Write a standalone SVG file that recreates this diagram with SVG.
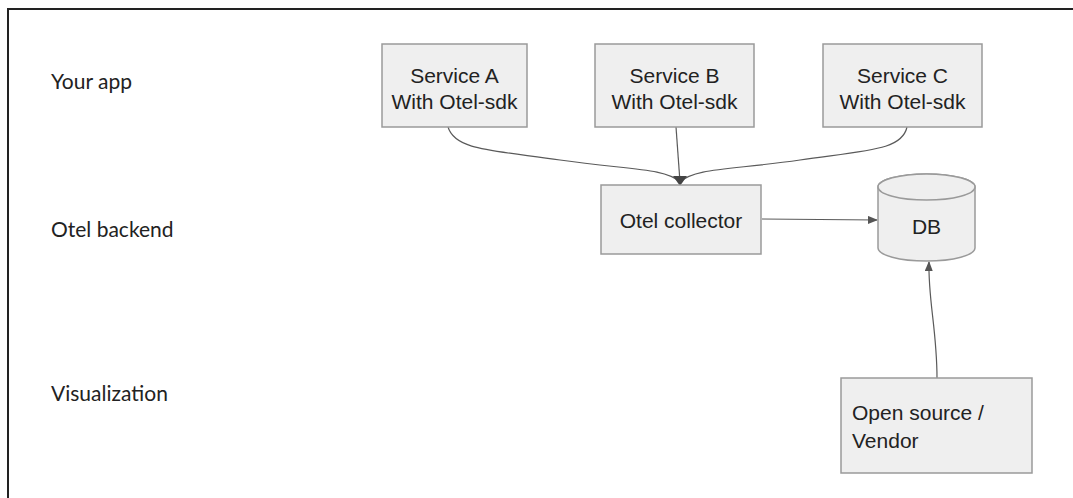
<svg xmlns="http://www.w3.org/2000/svg" width="1073" height="498" viewBox="0 0 1073 498">
<style>
.box{fill:#efefef;stroke:#9a9a9a;stroke-width:1.5}
.t{font-family:"Liberation Sans",Arial,sans-serif;font-size:21px;fill:#222;text-anchor:middle}
.lab{font-family:Lato,"Liberation Sans",sans-serif;font-size:21px;fill:#222}
.c{fill:none;stroke:#5a5a5a;stroke-width:1.2}
</style>
<defs>
<marker id="ah" markerWidth="10" markerHeight="8" refX="9" refY="4" orient="auto" markerUnits="userSpaceOnUse">
<path d="M0,0 L10,4 L0,8 Z" fill="#555"/>
</marker>
</defs>
<rect width="1073" height="498" fill="#fff"/>
<path d="M8,498 L8,9 L1073,9" fill="none" stroke="#222" stroke-width="2"/>
<g id="labels">
<text class="lab" x="51" y="89">Your app</text>
<text class="lab" x="51" y="237">Otel backend</text>
<text class="lab" x="51" y="401">Visualization</text>
</g>
<g id="connectors">
<path class="c" d="M448,127 C455,150 490,150 560,160 C630,170 665,168 680,182"/>
<path class="c" d="M676,127 L680,182"/>
<path class="c" d="M907,127 C902,150 870,150 800,160 C730,170 695,168 680,182"/>
<path d="M673,176 L687,176 L680,186 Z" fill="#444"/>
<path class="c" d="M762,219 L877,220" marker-end="url(#ah)"/>
<path class="c" d="M937,378 C937,330 928,300 929,262" marker-end="url(#ah)"/>
</g>
<g id="serviceA">
<rect class="box" x="382" y="44" width="145" height="83"/>
<text class="t" x="454.5" y="83">Service A</text>
<text class="t" x="454.5" y="109">With Otel-sdk</text>
</g>
<g id="serviceB">
<rect class="box" x="595" y="44" width="159" height="83"/>
<text class="t" x="674.5" y="83">Service B</text>
<text class="t" x="674.5" y="109">With Otel-sdk</text>
</g>
<g id="serviceC">
<rect class="box" x="823" y="44" width="159" height="83"/>
<text class="t" x="902.5" y="83">Service C</text>
<text class="t" x="902.5" y="109">With Otel-sdk</text>
</g>
<g id="collector">
<rect class="box" x="601" y="185" width="160" height="69"/>
<text class="t" x="681" y="228">Otel collector</text>
</g>
<g id="db">
<path class="box" d="M878,187 L878,248 A48.5,13 0 0 0 975,248 L975,187 A48.5,13 0 0 0 878,187 Z"/>
<ellipse class="box" cx="926.5" cy="187" rx="48.5" ry="13"/>
<text class="t" x="926.5" y="234">DB</text>
</g>
<g id="vendor">
<rect class="box" x="841" y="378" width="191" height="95"/>
<text class="t" x="852" y="420" style="text-anchor:start">Open source /</text>
<text class="t" x="852" y="448" style="text-anchor:start">Vendor</text>
</g>
</svg>
